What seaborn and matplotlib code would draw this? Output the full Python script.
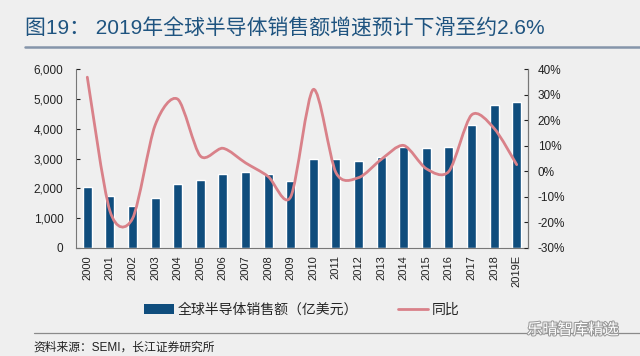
import matplotlib
matplotlib.use('Agg')
import matplotlib.pyplot as plt
import matplotlib.patheffects as pe
from matplotlib.path import Path
from matplotlib.patches import PathPatch, Patch
from matplotlib.lines import Line2D
from matplotlib.ticker import FixedLocator, FuncFormatter
import numpy as np
import pandas as pd
import seaborn as sns

# chart data
years = ['2000', '2001', '2002', '2003', '2004', '2005', '2006', '2007', '2008', '2009',
         '2010', '2011', '2012', '2013', '2014', '2015', '2016', '2017', '2018', '2019E']
sales = [2035, 1753, 1418, 1665, 2134, 2279, 2470, 2547, 2470, 2257,
         2983, 2983, 2916, 3061, 3374, 3352, 3385, 4123, 4782, 4894]
growth = [36.8, -15.5, -18.5, 18.0, 28.2, 6.0, 9.0, 3.3, -2.0, -10.0,
          32.0, -0.5, -2.5, 4.6, 10.1, 1.0, 0.0, 22.0, 16.8, 2.6]

title = '图19： 2019年全球半导体销售额增速预计下滑至约2.6%'
bar_label = '全球半导体销售额（亿美元）'
line_label = '同比'
source = '资料来源：SEMI，长江证券研究所'
watermark = '乐晴智库精选'

bar_color = '#0f4d7d'
line_color = '#d98189'
bg = '#efefef'

sns.set_style('white')
plt.rcParams['font.family'] = ['Liberation Sans', 'Noto Sans CJK SC', 'DejaVu Sans']

df = pd.DataFrame({'year': years, 'sales': sales, 'growth': growth})

fig = plt.figure(figsize=(6.4, 3.56), dpi=100, facecolor=bg)
ax = fig.add_axes([76 / 640, 1 - 248 / 356, (528 - 76) / 640, (248 - 69) / 356])
ax.set_facecolor(bg)

sns.barplot(data=df, x='year', y='sales', color=bar_color, width=0.4, saturation=1, ax=ax)
ax.set_xlim(-0.5, len(years) - 0.5)
ax.set_ylim(0, 6000)
ax.set_yticks(range(0, 6001, 1000))
ax.yaxis.set_major_formatter(FuncFormatter(lambda v, p: f'{int(v):,}'))
ax.set_xlabel('')
ax.set_ylabel('')
ax.tick_params(axis='y', direction='in', length=3, pad=9, labelsize=8.5, colors='#222222')
ax.tick_params(axis='x', which='major', length=0, pad=5, labelsize=8, labelrotation=90, colors='#222222')
ax.xaxis.set_minor_locator(FixedLocator(np.arange(0.5, len(years) - 1, 1)))
ax.tick_params(axis='x', which='minor', direction='in', length=3, color='#999999')
for s in ['left', 'bottom', 'right']:
    ax.spines[s].set_color('#777777')
    ax.spines[s].set_linewidth(0.8)
ax.spines['top'].set_visible(False)

# growth line on the right axis, drawn as a smooth curve through the points
ax2 = ax.twinx()
ax2.set_ylim(-30, 40)
ax2.set_yticks(range(-30, 41, 10))
ax2.yaxis.set_major_formatter(FuncFormatter(lambda v, p: f'{int(v)}%'))
ax2.tick_params(axis='y', direction='in', length=3, pad=7, labelsize=8.5, colors='#222222')
for s in ['left', 'bottom', 'top']:
    ax2.spines[s].set_visible(False)
ax2.spines['right'].set_color('#777777')
ax2.spines['right'].set_linewidth(0.8)

xs = np.arange(len(years), dtype=float)
ys = np.array(growth, dtype=float)
verts = [(xs[0], ys[0])]
codes = [Path.MOVETO]
n = len(xs)
k = 1 / 7  # smoothing strength
for i in range(n - 1):
    p0 = np.array([xs[max(i - 1, 0)], ys[max(i - 1, 0)]])
    p1 = np.array([xs[i], ys[i]])
    p2 = np.array([xs[i + 1], ys[i + 1]])
    p3 = np.array([xs[min(i + 2, n - 1)], ys[min(i + 2, n - 1)]])
    c1 = p1 + (p2 - p0) * k
    c2 = p2 - (p3 - p1) * k
    verts += [tuple(c1), tuple(c2), tuple(p2)]
    codes += [Path.CURVE4] * 3
ax2.add_patch(PathPatch(Path(verts, codes), facecolor='none', edgecolor=line_color, lw=2, capstyle='round'))

# title, rules, legend, source
fig.text(25 / 640, 1 - 29 / 356, title, fontsize=15, color='#1f5480', va='center', ha='left')
fig.add_artist(Line2D([25 / 640, 1], [1 - 47 / 356] * 2, color='#8595aa', lw=1.8))
fig.add_artist(Line2D([34 / 640, 1], [1 - 333 / 356] * 2, color='#8a8a8a', lw=0.9))
fig.text(33 / 640, 1 - 348 / 356, source, fontsize=8.5, color='#222222', va='center', ha='left')
fig.text(527 / 640, 1 - 330 / 356, watermark, fontsize=11, color='white', va='center', ha='left',
         path_effects=[pe.withStroke(linewidth=1.5, foreground='#9a9a9a')])

handles = [Patch(facecolor=bar_color, edgecolor='none'),
           Line2D([], [], color=line_color, lw=2)]
fig.legend(handles, [bar_label, line_label], loc='center', bbox_to_anchor=(302 / 640, 1 - 310 / 356),
           ncol=2, frameon=False, fontsize=10, handlelength=2.1, handletextpad=0.3,
           columnspacing=2.9, borderpad=0)

fig.savefig('out.png', dpi=100, facecolor=bg)
